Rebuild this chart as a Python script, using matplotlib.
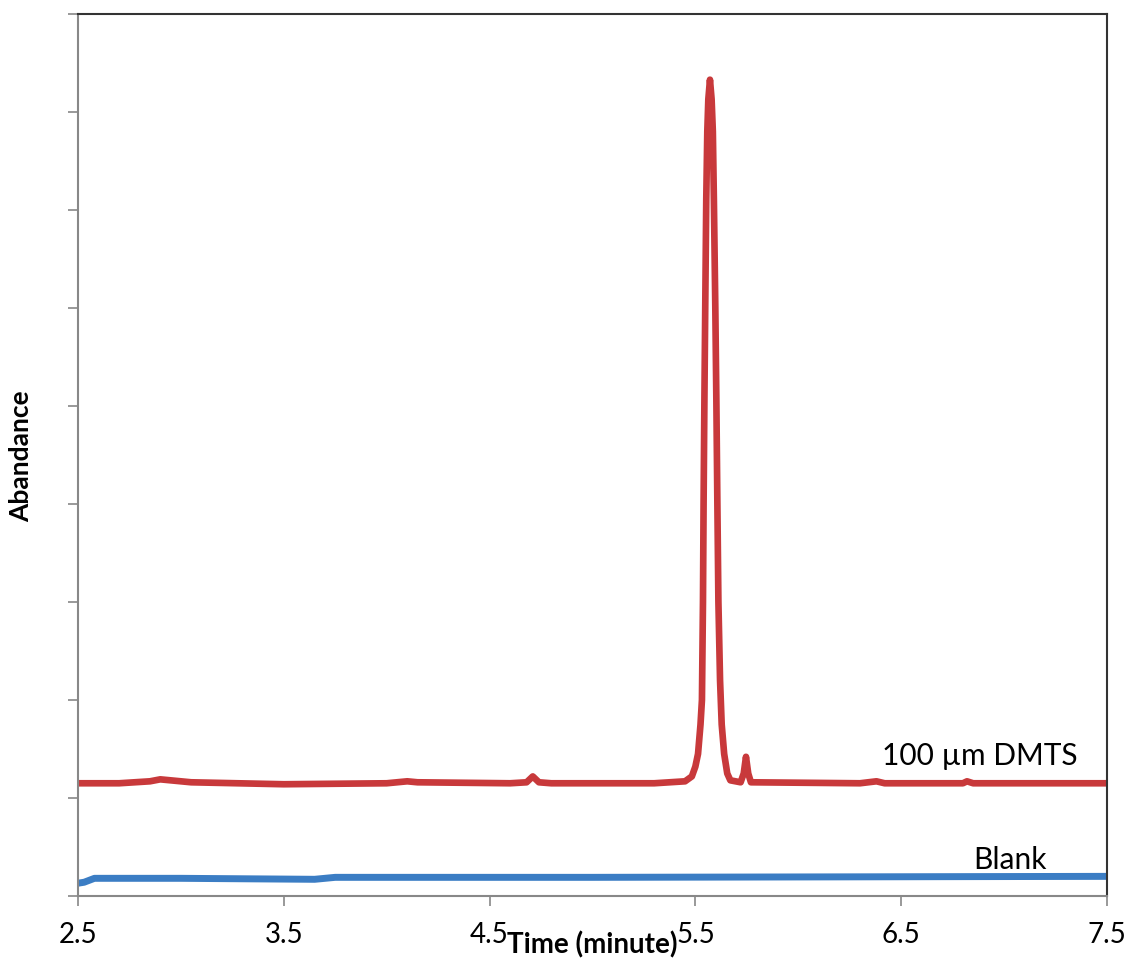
import matplotlib
matplotlib.use("Agg")
import matplotlib.pyplot as plt
import numpy as np

plt.rcParams['font.family'] = ['Lato', 'DejaVu Sans']

# retention time (minute) and abundance
dmts_time = [2.5, 2.7, 2.85, 2.9, 2.95, 3.05, 3.5, 4.0, 4.1, 4.15, 4.6, 4.68,
             4.71, 4.74, 4.8, 5.3, 5.45, 5.483, 5.50, 5.513, 5.525, 5.532,
             5.537, 5.54, 5.544, 5.548, 5.553, 5.558, 5.563, 5.571, 5.579,
             5.585, 5.59, 5.597, 5.602, 5.607, 5.612, 5.62, 5.628, 5.64,
             5.655, 5.67, 5.72, 5.735, 5.746, 5.757, 5.77, 6.3, 6.38, 6.42,
             6.8, 6.82, 6.85, 7.5]
dmts_abund = [1.15, 1.15, 1.17, 1.19, 1.18, 1.16, 1.14, 1.15, 1.17, 1.16,
              1.15, 1.16, 1.22, 1.16, 1.15, 1.15, 1.17, 1.22, 1.32, 1.45,
              1.75, 2.0, 3.0, 4.0, 5.07, 6.0, 7.11, 7.8, 8.13, 8.33, 8.13,
              7.8, 7.11, 6.0, 5.07, 4.0, 3.0, 2.2, 1.75, 1.45, 1.25, 1.18,
              1.16, 1.25, 1.42, 1.25, 1.16, 1.15, 1.17, 1.15, 1.15, 1.17,
              1.15, 1.15]

blank_time = [2.5, 2.53, 2.58, 3.0, 3.65, 3.75, 5.0, 7.5]
blank_abund = [0.13, 0.14, 0.18, 0.18, 0.17, 0.19, 0.19, 0.20]

x_ticks = [2.5, 3.5, 4.5, 5.5, 6.5, 7.5]
x_labels = ['2.5', '3.5', '4.5', '5.5', '6.5', '7.5']

fig = plt.figure(figsize=(11.3, 9.7), dpi=100)
ax = fig.add_axes([0.069, 0.0753, 0.9106, 0.9092])

ax.plot(dmts_time, dmts_abund, color='#C8393B', lw=4.8,
        solid_joinstyle='round', solid_capstyle='round')
ax.plot(blank_time, blank_abund, color='#3B7DC4', lw=5,
        solid_joinstyle='round')

ax.text(6.88, 1.3, '100 \u00b5m DMTS', fontsize=21.5, ha='center', va='bottom')
ax.text(7.03, 0.38, 'Blank', fontsize=21.5, ha='center', va='center')

ax.set_xlim(2.5, 7.5)
ax.set_ylim(0, 9)
ax.set_xticks(x_ticks)
ax.set_xticklabels(x_labels, fontsize=20)
ax.set_yticks(np.arange(0, 10))
ax.set_yticklabels([])
ax.tick_params(axis='both', direction='out', length=7, color='#888888', width=1.2)
ax.tick_params(axis='x', pad=11)

for side in ['left', 'bottom']:
    ax.spines[side].set_color('#888888')
    ax.spines[side].set_linewidth(1.5)
for side in ['top', 'right']:
    ax.spines[side].set_color('#333333')
    ax.spines[side].set_linewidth(1.5)

ax.set_xlabel('Time (minute)', fontsize=20, fontweight='bold', labelpad=-12)
ax.set_ylabel('Abandance', fontsize=19, fontweight='bold', labelpad=22)

fig.savefig('out.png', dpi=100)
